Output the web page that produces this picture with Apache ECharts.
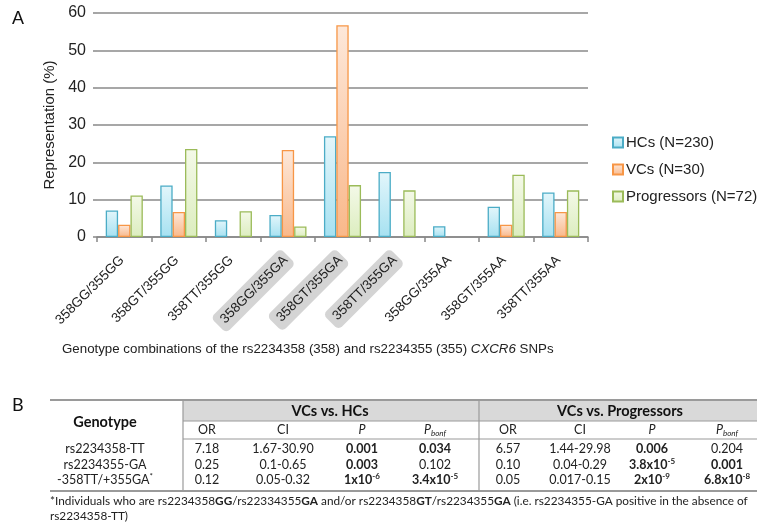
<!DOCTYPE html>
<html>
<head>
<meta charset="utf-8">
<script src="https://cdn.jsdelivr.net/npm/echarts/dist/echarts.min.js"></script>
<style>
html,body{margin:0;padding:0;background:#fff;}
#chart{width:760px;height:524px;}
</style>
</head>
<body>
<div id="chart"></div>
<script>
// ---------- Panel A data ----------
const categories = ['358GG/355GG','358GT/355GG','358TT/355GG','358GG/355GA','358GT/355GA','358TT/355GA','358GG/355AA','358GT/355AA','358TT/355AA'];
const highlighted = [3, 4, 5];
const seriesNames = ['HCs (N=230)', 'VCs (N=30)', 'Progressors (N=72)'];
const hcValues = [7.1, 13.8, 4.5, 5.9, 27.0, 17.4, 2.9, 8.1, 11.9];
const vcValues = [3.3, 6.7, null, 23.3, 56.7, null, null, 3.3, 6.7];
const progValues = [11.1, 23.6, 6.9, 2.8, 13.9, 12.5, null, 16.7, 12.5];
const yTicks = [0, 10, 20, 30, 40, 50, 60];

// ---------- Panel B data ----------
const genotypes = ['rs2234358-TT', 'rs2234355-GA', '-358TT/+355GA^*'];
const groupHeaders = ['VCs vs. HCs', 'VCs vs. Progressors'];
const subHeaders = ['OR', 'CI', 'P', 'Pbonf'];
const hcOR = ['7.18', '0.25', '0.12'];
const hcCI = ['1.67-30.90', '0.1-0.65', '0.05-0.32'];
const hcP = ['0.001', '0.003', '1x10^-6'];
const hcPbonf = ['0.034', '0.102', '3.4x10^-5'];
const pgOR = ['6.57', '0.10', '0.05'];
const pgCI = ['1.44-29.98', '0.04-0.29', '0.017-0.15'];
const pgP = ['0.006', '3.8x10^-5', '2x10^-9'];
const pgPbonf = ['0.204', '0.001', '6.8x10^-8'];
const hcPBold = [true, true, true];
const hcPbonfBold = [true, false, true];
const pgPBold = [true, true, true];
const pgPbonfBold = [false, true, true];

const chart = echarts.init(document.getElementById('chart'));

function grad(top, bottom) {
  return new echarts.graphic.LinearGradient(0, 0, 0, 1, [
    {offset: 0, color: top}, {offset: 1, color: bottom}
  ]);
}
const fills = [grad('#e3f6fb', '#a6e1f1'), grad('#fde8da', '#f9b88a'), grad('#f4f9e8', '#dcedbf')];
const borders = ['#4bacc6', '#f79646', '#9bbb59'];
const seriesData = [hcValues, vcValues, progValues];

const aFont = '"Liberation Sans", Arial, sans-serif';
const tFont = 'Lato, "Noto Sans", sans-serif';
const tColor = '#222';
const graphics = [];

// Panel labels
graphics.push({type:'text', x:12, y:10, style:{text:'A', font:'18px ' + aFont, fill:'#111'}});
graphics.push({type:'text', x:12, y:396, style:{text:'B', font:'18px ' + tFont, fill:'#111'}});

// x axis title
graphics.push({type:'text', x:62, y:343, style:{
  text:'{n|Genotype combinations of the rs2234358 (358) and rs2234355 (355) }{i|CXCR6}{n| SNPs}',
  rich:{
    n:{fontSize:13.3, fontFamily:aFont, fill:'#222'},
    i:{fontSize:13.3, fontStyle:'italic', fontFamily:aFont, fill:'#222'}
  }
}});

// ---------- Table ----------
const tLeft = 50, tRight = 757, tTop = 400, hdr1 = 421, hdr2 = 439, tBottom = 491;
const col1 = 183, col2 = 479;
const rowY = [449, 465, 480];
const lineColor = '#9a9a9a';
graphics.push({type:'rect', shape:{x:col1, y:tTop, width:tRight-col1, height:hdr1-tTop}, style:{fill:'#d9d9d9'}});
function hline(x1, x2, y, w) {
  graphics.push({type:'line', shape:{x1:x1, y1:y, x2:x2, y2:y}, style:{stroke:lineColor, lineWidth:w}});
}
function vline(x, y1, y2) {
  graphics.push({type:'line', shape:{x1:x, y1:y1, x2:x, y2:y2}, style:{stroke:lineColor, lineWidth:1.2}});
}
hline(tLeft, tRight, tTop, 2);
hline(col1, tRight, hdr1, 1);
hline(col1, tRight, hdr2, 1.2);
hline(tLeft, tRight, tBottom, 2);
vline(col1, tTop, tBottom);
vline(col2, tTop, tBottom);

const richBase = {
  n:{fontSize:12.5, fontFamily:tFont, fill:tColor, lineHeight:15},
  b:{fontSize:12.5, fontFamily:tFont, fontWeight:'bold', fill:tColor, lineHeight:15},
  sup:{fontSize:8, fontFamily:tFont, fill:tColor, lineHeight:8, verticalAlign:'top'},
  bsup:{fontSize:8, fontFamily:tFont, fontWeight:'bold', fill:tColor, lineHeight:8, verticalAlign:'top'},
  it:{fontSize:12.5, fontFamily:tFont, fontStyle:'italic', fill:tColor, lineHeight:15},
  sub:{fontSize:8, fontFamily:tFont, fontStyle:'italic', fill:tColor, lineHeight:8, verticalAlign:'bottom'},
  h:{fontSize:14.5, fontFamily:tFont, fontWeight:'bold', fill:'#111', lineHeight:16}
};
function cellText(str, bold) {
  const parts = str.split('^');
  const base = bold ? 'b' : 'n';
  let t = '{' + base + '|' + parts[0] + '}';
  if (parts.length > 1) t += '{' + (bold ? 'bsup' : 'sup') + '|' + parts[1] + '}';
  return t;
}
function addText(x, y, text) {
  graphics.push({type:'text', x:x, y:y, style:{text:text, rich:richBase, align:'center', verticalAlign:'middle'}});
}
addText(105, 422, '{h|Genotype}');
addText(330, 411, '{h|' + groupHeaders[0] + '}');
addText(620, 411, '{h|' + groupHeaders[1] + '}');
const colX = [[207, 283, 362, 435], [508, 580, 652, 727]];
for (let g = 0; g < 2; g++) {
  subHeaders.forEach((s, k) => {
    const t = s === 'P' ? '{it|P}' : s === 'Pbonf' ? '{it|P}{sub|bonf}' : '{n|' + s + '}';
    addText(colX[g][k], 430, t);
  });
}
genotypes.forEach((gt, r) => addText(105, rowY[r], cellText(gt, false)));
const tableCols = [
  [hcOR, null], [hcCI, null], [hcP, hcPBold], [hcPbonf, hcPbonfBold],
  [pgOR, null], [pgCI, null], [pgP, pgPBold], [pgPbonf, pgPbonfBold]
];
tableCols.forEach((c, k) => {
  const x = colX[Math.floor(k / 4)][k % 4];
  c[0].forEach((v, r) => addText(x, rowY[r], cellText(v, c[1] ? c[1][r] : false)));
});
// footnote
graphics.push({type:'text', x:50, y:494, style:{
  text:'{n|*Individuals who are rs2234358}{b|GG}{n|/rs22334355}{b|GA}{n| and/or rs2234358}{b|GT}{n|/rs2234355}{b|GA}{n| (i.e. rs2234355-GA positive in the absence of}\n{n|rs2234358-TT)}',
  rich:{
    n:{fontSize:11.8, fontFamily:tFont, fill:tColor, lineHeight:15},
    b:{fontSize:11.8, fontFamily:tFont, fontWeight:'bold', fill:tColor, lineHeight:15}
  },
  verticalAlign:'top'
}});

const option = {
  animation: false,
  backgroundColor: '#fff',
  grid: {left: 97, right: 172, top: 13, bottom: 287, containLabel: false},
  legend: {
    orient: 'vertical', left: 612, top: 135, icon: 'rect', padding: 0,
    itemWidth: 10, itemHeight: 10, itemGap: 12,
    textStyle: {fontSize: 15, fontFamily: aFont, color: '#222', padding: [0, 0, 0, -2]},
    data: seriesNames
  },
  xAxis: {
    type: 'category', data: categories,
    axisLine: {lineStyle: {color: '#888', width: 1.5}},
    axisTick: {show: true, length: 5, lineStyle: {color: '#888', width: 1.5}},
    axisLabel: {
      rotate: 45, margin: 19, interval: 0,
      formatter: (v, i) => highlighted.includes(i) ? '{hl|' + v + '}' : '{n|' + v + '}',
      rich: {
        n: {fontSize: 13.5, fontFamily: aFont, color: '#222', padding: [4, 3, 4, 6]},
        hl: {fontSize: 13.5, fontFamily: aFont, color: '#222', padding: [4, 3, 4, 6], backgroundColor: '#d4d4d4', borderRadius: 5}
      }
    }
  },
  yAxis: {
    type: 'value', min: yTicks[0], max: yTicks[yTicks.length - 1], interval: 10,
    name: 'Representation (%)', nameLocation: 'middle', nameGap: 40,
    nameTextStyle: {fontSize: 15, fontFamily: aFont, color: '#222'},
    axisLine: {show: false},
    axisTick: {show: true, length: 4, lineStyle: {color: '#888', width: 1.5}},
    axisLabel: {fontSize: 16, fontFamily: aFont, color: '#222', margin: 11},
    splitLine: {lineStyle: {color: '#8a8a8a', width: 1.5}}
  },
  series: seriesNames.map((n, i) => ({
    name: n, type: 'bar', data: seriesData[i],
    barGap: '0%', barCategoryGap: '32%',
    itemStyle: {color: fills[i], borderColor: borders[i], borderWidth: 1.3}
  })),
  graphic: graphics
};
chart.setOption(option);
</script>
</body>
</html>
